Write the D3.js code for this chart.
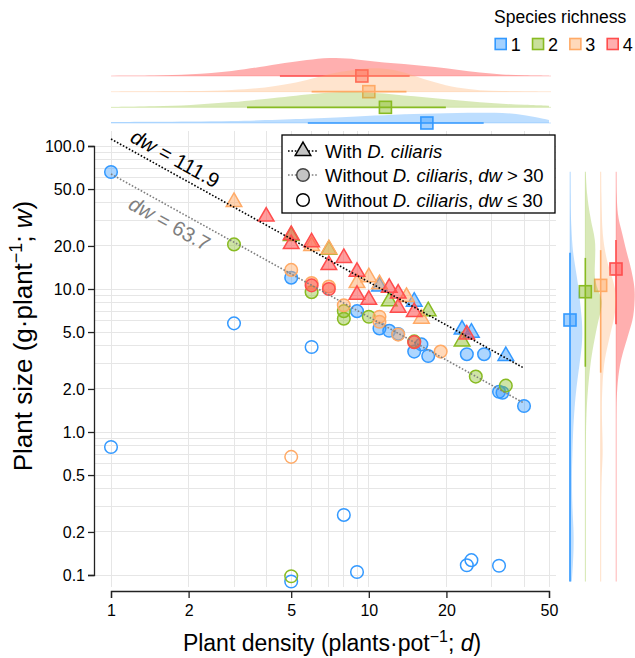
<!DOCTYPE html>
<html>
<head>
<meta charset="utf-8">
<script src="https://cdn.jsdelivr.net/npm/d3@7/dist/d3.min.js"></script>
<style>
html,body{margin:0;padding:0;background:#fff;}
svg text{font-family:"Liberation Sans",Arial,Helvetica,sans-serif;fill:#000;}
</style>
</head>
<body>
<svg id="chart" width="635" height="658"></svg>
<script>
// ---------------- data ----------------
const richness = [1, 2, 3, 4];
const richColors = ["#3399ff", "#88bb22", "#ffaa66", "#ff4d4d"];
const richFillOpacity = [0.4, 0.4, 0.45, 0.5];

// With D. ciliaris (triangles)
const triDensity = [11, 15, 23, 25, 34,
                    5, 7, 12, 17, 23,
                    3, 6, 7, 9, 10, 11, 14, 16,
                    4, 5, 5, 6, 7, 8, 9, 9, 10, 12, 13, 13, 15, 24];
const triSize = [10.4, 8.15, 5.2, 4.95, 3.4,
                 23.5, 18.8, 8.2, 7.0, 4.3,
                 40.6, 20.0, 19.0, 11.0, 12.1, 10.8, 8.8, 6.2,
                 32.1, 23.9, 20.6, 21.2, 14.7, 16.5, 13.2, 9.1, 8.4, 10.2, 9.3, 7.4, 6.9, 4.8];
const triRich = [1, 1, 1, 1, 1,
                 2, 2, 2, 2, 2,
                 3, 3, 3, 3, 3, 3, 3, 3,
                 4, 4, 4, 4, 4, 4, 4, 4, 4, 4, 4, 4, 4, 4];

// Without D. ciliaris (circles; filled when d*w > 30)
const cirDensity = [1, 5, 9, 11, 12, 13, 15, 16, 17, 24, 28, 32, 33, 40, 1, 3, 6, 5, 8, 9, 24, 25, 32,
                    3, 6, 8, 8, 10, 15, 26, 34, 5,
                    5, 6, 7, 8, 11, 11, 13, 19, 5,
                    6, 7, 15];
const cirSize = [65.8, 12.0, 7.0, 5.3, 5.1, 4.85, 3.65, 4.1, 3.4, 3.5, 3.5, 1.91, 1.88, 1.52, 0.785, 5.75, 3.93, 0.09, 0.263, 0.105, 0.117, 0.127, 0.116,
                 20.5, 9.5, 7.0, 6.2, 6.4, 4.3, 2.44, 2.11, 0.098,
                 13.6, 11.0, 10.4, 7.7, 6.4, 5.9, 4.8, 3.65, 0.67,
                 10.6, 10.0, 4.25];
const cirRich = [1, 1, 1, 1, 1, 1, 1, 1, 1, 1, 1, 1, 1, 1, 1, 1, 1, 1, 1, 1, 1, 1, 1,
                 2, 2, 2, 2, 2, 2, 2, 2, 2,
                 3, 3, 3, 3, 3, 3, 3, 3, 3,
                 4, 4, 4];
const dwThreshold = 30;

// fitted constant-yield lines (d*w = const)
const fitDW = [111.9, 63.7];
const fitColors = ["#000000", "#7f7f7f"];
const fitRange = [1, 40];

// axis ticks
const xTicks = [1, 2, 5, 10, 20, 50];
const yTicks = [0.1, 0.2, 0.5, 1, 2, 5, 10, 20, 50, 100];

// marginal summaries (mean and interval per richness level: 1,2,3,4)
const dMean = [16.8, 11.6, 10.0, 9.4];
const dLo = [5.8, 3.37, 6.0, 4.52];
const dHi = [27.9, 19.9, 14.0, 14.4];
const wMean = [6.07, 9.57, 10.6, 13.8];
const wLo = [0.09, 2.86, 2.6, 5.67];
const wHi = [17.9, 16.5, 18.7, 22.0];

// marginal densities of d (relative), richness 1..4
const topGridD = [1, 1.5, 2, 3, 4, 5, 6, 7.5, 9, 10.5, 12.5, 15, 18, 22, 27, 33, 40, 50];
const topDensity1 = [0.04, 0.05, 0.06, 0.08, 0.12, 0.16, 0.19, 0.23, 0.27, 0.31, 0.35, 0.38, 0.40, 0.42, 0.43, 0.43, 0.35, 0.13];
const topDensity2 = [0.01, 0.04, 0.08, 0.22, 0.35, 0.46, 0.56, 0.63, 0.63, 0.60, 0.54, 0.46, 0.38, 0.29, 0.21, 0.15, 0.10, 0.07];
const topDensity3 = [0, 0.004, 0.02, 0.06, 0.17, 0.33, 0.54, 0.81, 0.94, 1.0, 0.94, 0.67, 0.38, 0.15, 0.05, 0.02, 0.01, 0];
const topDensity4 = [0.004, 0.02, 0.05, 0.20, 0.42, 0.58, 0.70, 0.77, 0.69, 0.60, 0.53, 0.46, 0.38, 0.27, 0.13, 0.06, 0.03, 0.01];

// marginal densities of w (relative), richness 1..4
const rightGridW = [0.09, 0.12, 0.15, 0.2, 0.3, 0.5, 0.7, 1, 1.5, 2, 3, 4, 5, 6, 7, 8.5, 10, 12, 15, 18, 22, 27, 33, 45, 66];
const rightDensity1 = [0.09, 0.15, 0.18, 0.19, 0.11, 0.09, 0.12, 0.15, 0.23, 0.31, 0.48, 0.60, 0.62, 0.60, 0.55, 0.49, 0.43, 0.35, 0.24, 0.15, 0.10, 0.07, 0.04, 0.03, 0.02];
const rightDensity2 = [0.02, 0.02, 0.02, 0.02, 0.02, 0.02, 0.02, 0.03, 0.07, 0.13, 0.25, 0.40, 0.53, 0.65, 0.78, 0.85, 0.60, 0.45, 0.48, 0.50, 0.50, 0.35, 0.23, 0.08, 0.02];
const rightDensity3 = [0.02, 0.02, 0.02, 0.02, 0.02, 0.04, 0.12, 0.08, 0.05, 0.08, 0.15, 0.35, 0.50, 0.65, 0.73, 0.79, 0.73, 0.58, 0.35, 0.23, 0.13, 0.08, 0.06, 0.03, 0.02];
const rightDensity4 = [0.02, 0.02, 0.02, 0.02, 0.02, 0.02, 0.02, 0.02, 0.02, 0.05, 0.18, 0.45, 0.65, 0.83, 0.90, 0.94, 0.94, 0.85, 0.70, 0.53, 0.39, 0.23, 0.08, 0.03, 0.02];

const legendLabels = ["With ", "Without ", "Without "];

// ---------------- drawing ----------------
const svg = d3.select("#chart");
const x = d3.scaleLog().domain([1, 50]).range([111, 549]);
const y = d3.scaleLog().domain([0.1, 100]).range([575, 146]);
const color = d3.scaleOrdinal().domain(richness).range(richColors);
const fop = d3.scaleOrdinal().domain(richness).range(richFillOpacity);

// panel grid
const panel = {left: 95, right: 556, top: 131, bottom: 587};
const grid = svg.append("g").attr("shape-rendering", "crispEdges");
grid.selectAll("line.gy").data(y.ticks()).join("line")
  .attr("x1", panel.left).attr("x2", panel.right)
  .attr("y1", d => y(d)).attr("y2", d => y(d))
  .attr("stroke", "#e6e6e6").attr("stroke-width", 1);
grid.selectAll("line.gx").data(x.ticks()).join("line")
  .attr("y1", panel.top).attr("y2", panel.bottom)
  .attr("x1", d => x(d)).attr("x2", d => x(d))
  .attr("stroke", "#e6e6e6").attr("stroke-width", 1);

// axes
const ax = svg.append("g").attr("transform", "translate(0,591)")
  .call(d3.axisBottom(x).tickValues(xTicks).tickFormat(d3.format("d")).tickSizeOuter(0).tickSize(7).tickPadding(7));
const ay = svg.append("g").attr("transform", "translate(94,0)")
  .call(d3.axisLeft(y).tickValues(yTicks).tickFormat(d3.format(".1f")).tickSizeOuter(0).tickSize(6).tickPadding(3));
[ax, ay].forEach(g => {
  g.selectAll("path,line").attr("stroke", "#222").attr("stroke-width", 1.3);
  g.selectAll("text").attr("font-size", 16).attr("fill", "#000")
    .style("font-family", '"Liberation Sans",Arial,sans-serif');
});

// points
const circles = cirDensity.map((d, i) => ({d, w: cirSize[i], r: cirRich[i]}));
const tris = triDensity.map((d, i) => ({d, w: triSize[i], r: triRich[i]}));
const pts = svg.append("g");
pts.selectAll("circle.p").data(circles).join("circle")
  .attr("cx", p => x(p.d)).attr("cy", p => y(p.w)).attr("r", 6.3)
  .attr("stroke", p => color(p.r)).attr("stroke-width", 1.5)
  .attr("fill", p => p.d * p.w > dwThreshold ? color(p.r) : "none")
  .attr("fill-opacity", p => fop(p.r));
pts.selectAll("path.t").data(tris).join("path")
  .attr("transform", p => `translate(${x(p.d)},${y(p.w)})`)
  .attr("d", d3.symbol(d3.symbolTriangle, 105))
  .attr("stroke", p => color(p.r)).attr("stroke-width", 1.5)
  .attr("fill", p => color(p.r)).attr("fill-opacity", p => fop(p.r) + 0.05);

// fitted lines
fitDW.forEach((c, i) => {
  const line = d3.line().x(d => x(d)).y(d => y(c / d));
  svg.append("path").datum(fitRange).attr("d", line)
    .attr("fill", "none").attr("stroke", fitColors[i]).attr("stroke-width", 1.6)
    .attr("stroke-dasharray", "1.6,1.8");
});
const ang = Math.atan2(y(0.1) - y(1), x(10) - x(1)) * 180 / Math.PI;
const fitLabelPos = [1.67, 1.8];
const fitLabelDy = [-7, 22];
fitDW.forEach((c, i) => {
  const d0 = fitLabelPos[i];
  const t = svg.append("text")
    .attr("transform", `translate(${x(d0)},${y(c / d0)}) rotate(${ang})`)
    .attr("y", fitLabelDy[i]).attr("text-anchor", "middle")
    .attr("font-size", 20.5).style("fill", fitColors[i]);
  t.append("tspan").attr("font-style", "italic").text("dw");
  t.append("tspan").text(" = " + c.toFixed(1));
});

// top marginal densities
const topDens = [topDensity1, topDensity2, topDensity3, topDensity4];
const topY = d3.scalePoint().domain([4, 3, 2, 1]).range([76, 123]);
const topH = d3.scaleLinear().domain([0, 1]).range([0, 24]);
const topG = svg.append("g");
[4, 3, 2, 1].forEach(r => {
  const i = r - 1;
  const y0 = topY(r);
  const area = d3.area().curve(d3.curveBasis)
    .x((v, k) => x(topGridD[k])).y0(y0).y1(v => y0 - topH(v));
  topG.append("line").attr("x1", x(1)).attr("x2", x(50.9)).attr("y1", y0).attr("y2", y0)
    .attr("stroke", color(r)).attr("stroke-opacity", 0.25).attr("stroke-width", 1);
  topG.append("path").datum(topDens[i]).attr("d", area)
    .attr("fill", color(r)).attr("fill-opacity", r === 4 ? 0.45 : 0.32);
  topG.append("line").attr("x1", x(dLo[i])).attr("x2", x(dHi[i])).attr("y1", y0).attr("y2", y0)
    .attr("stroke", color(r)).attr("stroke-width", 1.6);
  topG.append("rect").attr("x", x(dMean[i]) - 6).attr("y", y0 - 6).attr("width", 12).attr("height", 12)
    .attr("fill", color(r)).attr("fill-opacity", 0.45).attr("stroke", color(r)).attr("stroke-width", 1.6);
});

// right marginal densities
const rightDens = [rightDensity1, rightDensity2, rightDensity3, rightDensity4];
const rightX = d3.scalePoint().domain([1, 2, 3, 4]).range([570, 616]);
const rightW = d3.scaleLinear().domain([0, 1]).range([0, 20]);
const rightG = svg.append("g");
[4, 3, 2, 1].forEach(r => {
  const i = r - 1;
  const x0 = rightX(r);
  const area = d3.area().curve(d3.curveBasis)
    .y((v, k) => y(rightGridW[k])).x0(x0).x1(v => x0 + rightW(v));
  rightG.append("line").attr("y1", y(66)).attr("y2", y(0.09)).attr("x1", x0).attr("x2", x0)
    .attr("stroke", color(r)).attr("stroke-opacity", 0.25).attr("stroke-width", 1);
  rightG.append("path").datum(rightDens[i]).attr("d", area)
    .attr("fill", color(r)).attr("fill-opacity", r === 4 ? 0.45 : 0.32);
  rightG.append("line").attr("y1", y(wLo[i])).attr("y2", y(wHi[i])).attr("x1", x0).attr("x2", x0)
    .attr("stroke", color(r)).attr("stroke-width", 1.6);
  rightG.append("rect").attr("x", x0 - 6).attr("y", y(wMean[i]) - 6).attr("width", 12).attr("height", 12)
    .attr("fill", color(r)).attr("fill-opacity", 0.45).attr("stroke", color(r)).attr("stroke-width", 1.6);
});

// species richness legend
svg.append("text").attr("x", 494).attr("y", 23).attr("font-size", 17.5).text("Species richness");
const legX = d3.scalePoint().domain(richness).range([500.7, 612.7]);
richness.forEach(r => {
  svg.append("rect").attr("x", legX(r) - 5.5).attr("y", 38.5).attr("width", 11).attr("height", 11)
    .attr("fill", color(r)).attr("fill-opacity", 0.45).attr("stroke", color(r)).attr("stroke-width", 1.6);
  svg.append("text").attr("x", legX(r) + 10).attr("y", 50.5).attr("font-size", 18).text(r);
});

// symbol legend
const lg = svg.append("g");
lg.append("rect").attr("x", 282).attr("y", 135).attr("width", 273).attr("height", 78)
  .attr("fill", "#fff").attr("stroke", "#000").attr("stroke-width", 1.3);
const rowY = [151, 175, 200];
lg.append("line").attr("x1", 288).attr("x2", 317).attr("y1", rowY[0]).attr("y2", rowY[0])
  .attr("stroke", fitColors[0]).attr("stroke-width", 1.6).attr("stroke-dasharray", "1.6,1.8");
lg.append("path").attr("transform", `translate(303,${rowY[0]})`).attr("d", d3.symbol(d3.symbolTriangle, 105))
  .attr("fill", "#c4c4c4").attr("stroke", "#000").attr("stroke-width", 1.5);
lg.append("line").attr("x1", 288).attr("x2", 317).attr("y1", rowY[1]).attr("y2", rowY[1])
  .attr("stroke", fitColors[1]).attr("stroke-width", 1.6).attr("stroke-dasharray", "1.6,1.8");
lg.append("circle").attr("cx", 303).attr("cy", rowY[1]).attr("r", 6.3)
  .attr("fill", "#c4c4c4").attr("stroke", "#444").attr("stroke-width", 1.5);
lg.append("circle").attr("cx", 303).attr("cy", rowY[2]).attr("r", 6.3)
  .attr("fill", "none").attr("stroke", "#000").attr("stroke-width", 1.5);
const legParts = [
  [[legendLabels[0], false], ["D. ciliaris", true]],
  [[legendLabels[1], false], ["D. ciliaris", true], [", ", false], ["dw", true], [" > 30", false]],
  [[legendLabels[2], false], ["D. ciliaris", true], [", ", false], ["dw", true], [" \u2264 30", false]]
];
legParts.forEach((parts, k) => {
  const t = lg.append("text").attr("x", 325).attr("y", rowY[k] + 6.5).attr("font-size", 18.5);
  parts.forEach(([s, it]) => t.append("tspan").attr("font-style", it ? "italic" : "normal").text(s));
});

// axis titles
const xt = svg.append("text").attr("x", 332).attr("y", 651).attr("text-anchor", "middle").attr("font-size", 23);
xt.append("tspan").text("Plant density (plants\u00b7pot");
xt.append("tspan").attr("font-size", 16).attr("dy", -9).text("\u22121");
xt.append("tspan").attr("dy", 9).text("; ");
xt.append("tspan").attr("font-style", "italic").text("d");
xt.append("tspan").text(")");

const yt = svg.append("text").attr("transform", "translate(32,336) rotate(-90)").attr("text-anchor", "middle").attr("font-size", 26);
yt.append("tspan").text("Plant size (g\u00b7plant");
yt.append("tspan").attr("font-size", 18).attr("dy", -10).text("\u22121");
yt.append("tspan").attr("dy", 10).text("; ");
yt.append("tspan").attr("font-style", "italic").text("w");
yt.append("tspan").text(")");
</script>
</body>
</html>
